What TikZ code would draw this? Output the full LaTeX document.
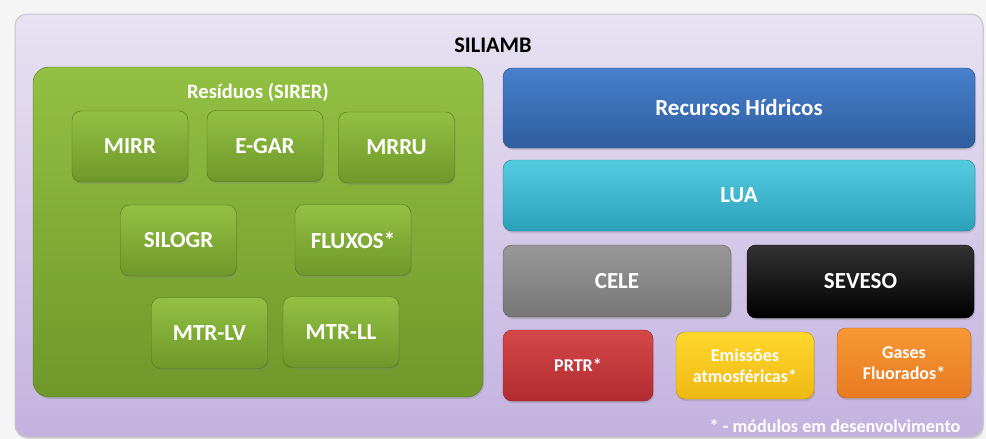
\documentclass[tikz,border=0pt]{standalone}
\usepackage{fontspec}
\setmainfont{Carlito}
\usetikzlibrary{shadows}
\definecolor{lilas}{RGB}{232,226,242}
\definecolor{lilasesc}{RGB}{195,178,223}
\definecolor{verde}{RGB}{110,152,42}
\definecolor{verdecl}{RGB}{146,192,66}
\definecolor{azul}{RGB}{47,94,160}
\definecolor{azulcl}{RGB}{72,128,204}
\definecolor{ciano}{RGB}{44,160,186}
\definecolor{cianocl}{RGB}{84,204,224}
\definecolor{cinza}{RGB}{118,118,118}
\definecolor{cinzacl}{RGB}{152,152,152}
\definecolor{vermelho}{RGB}{178,44,50}
\definecolor{vermelhocl}{RGB}{212,72,72}
\definecolor{amarelo}{RGB}{238,184,20}
\definecolor{amarelocl}{RGB}{255,216,44}
\definecolor{laranja}{RGB}{232,122,34}
\definecolor{laranjacl}{RGB}{246,152,52}

\begin{document}
\begin{tikzpicture}[x=1pt,y=-1pt,
  caixa/.style 2 args={rounded corners=9pt,inner sep=0pt,draw=#1!75!black,
    top color=#2,bottom color=#1,text=white,
    font=\fontsize{23}{25}\selectfont\bfseries,
    drop shadow={opacity=0.3,shadow xshift=1pt,shadow yshift=-2pt}},
  pequena/.style={font=\fontsize{18}{21}\selectfont\bfseries,align=center}]
\useasboundingbox (0,0) rectangle (986,439);
\fill[gray!8] (0,0) rectangle (986,439);

\node[rounded corners=12pt,minimum width=968pt,minimum height=423pt,
  top color=lilas,bottom color=lilasesc,draw=gray!45,line width=1pt,
  drop shadow={opacity=0.25,shadow xshift=1pt,shadow yshift=-2pt}] (siliamb) at (499,225.5) {};
\node[font=\fontsize{22.3}{25}\selectfont\bfseries] (titulo) at (493,45) {SILIAMB};

\node[caixa={verde}{verdecl},rounded corners=16pt,minimum width=450pt,minimum height=330pt] (sirer) at (258,232) {};
\node[text=white,font=\fontsize{20.5}{23}\selectfont\bfseries] (sirertit) at (258,92) {Resíduos (SIRER)};

\node[caixa={verde}{verdecl},minimum width=116pt,minimum height=71pt] (mirr) at (130,146.5) {MIRR};
\node[caixa={verde}{verdecl},minimum width=116pt,minimum height=71pt] (egar) at (265,146) {E-GAR};
\node[caixa={verde}{verdecl},minimum width=116pt,minimum height=71pt] (mrru) at (396.5,147.5) {MRRU};
\node[caixa={verde}{verdecl},minimum width=116pt,minimum height=71pt] (silogr) at (178.5,240.5) {SILOGR};
\node[caixa={verde}{verdecl},minimum width=116pt,minimum height=71pt] (fluxos) at (353,240) {FLUXOS*};
\node[caixa={verde}{verdecl},minimum width=116pt,minimum height=71pt] (mtrlv) at (209.5,333) {MTR-LV};
\node[caixa={verde}{verdecl},minimum width=116pt,minimum height=71pt] (mtrll) at (341,332) {MTR-LL};

\node[caixa={azul}{azulcl},minimum width=472pt,minimum height=80pt] (hidricos) at (739,108) {Recursos Hídricos};
\node[caixa={ciano}{cianocl},minimum width=472pt,minimum height=71pt] (lua) at (739,195.5) {LUA};
\node[caixa={cinza}{cinzacl},minimum width=228pt,minimum height=72pt] (cele) at (617,281) {CELE};
\node[caixa={black}{black!80},minimum width=227pt,minimum height=73pt] (seveso) at (860.5,281.5) {SEVESO};
\node[caixa={vermelho}{vermelhocl},pequena,minimum width=150pt,minimum height=71pt] (prtr) at (578,365.5) {PRTR*};
\node[caixa={amarelo}{amarelocl},pequena,minimum width=138pt,minimum height=67pt] (emissoes) at (745,365.5) {Emissões\\atmosféricas*};
\node[caixa={laranja}{laranjacl},pequena,minimum width=134pt,minimum height=70pt] (gases) at (904,363) {Gases\\Fluorados*};

\node[anchor=east,text=white,font=\fontsize{18.2}{21}\selectfont\bfseries] (nota) at (964,426) {* - módulos em desenvolvimento};
\end{tikzpicture}
\end{document}
